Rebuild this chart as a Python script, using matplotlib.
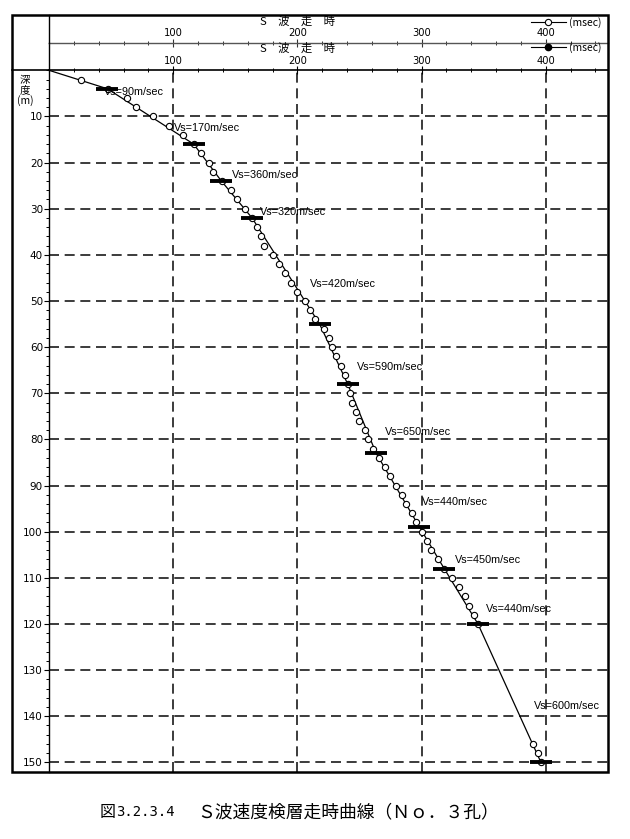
import matplotlib
matplotlib.use("Agg")
import matplotlib.pyplot as plt
from matplotlib.lines import Line2D
from matplotlib.patches import Rectangle
from matplotlib.ticker import MultipleLocator

plt.rcParams['font.family'] = ['Noto Sans CJK JP', 'DejaVu Sans']

# measured S-wave travel times (open circles), depth in m, time in msec
depth_pts = [2, 4, 6, 8, 10, 12, 14, 16, 18, 20, 22, 24, 26, 28, 30, 32, 34, 36, 38, 40,
             42, 44, 46, 48, 50, 52, 54, 56, 58, 60, 62, 64, 66, 68, 70, 72, 74, 76, 78, 80,
             82, 84, 86, 88, 90, 92, 94, 96, 98, 100, 102, 104, 106, 108, 110, 112, 114, 116, 118, 120,
             146, 148, 150]
time_pts = [25.7, 47.6, 62.5, 69.9, 83.8, 96.7, 107.7, 116.6, 122.6, 129.0, 131.8, 138.9, 146.4, 151.4,
            157.8, 163.8, 167.2, 170.4, 173.5, 180.6, 184.8, 189.7, 195.0, 199.4, 206.0, 210.4, 213.9,
            221.5, 225.2, 228.1, 231.4, 235.4, 238.6, 240.5, 242.1, 243.7, 247.2, 249.7, 254.4, 256.6,
            260.6, 265.5, 270.5, 274.5, 279.4, 284.4, 287.4, 292.4, 295.3, 300.6, 304.5, 307.6, 312.9,
            318.2, 324.5, 330.3, 335.1, 338.2, 342.3, 345.4, 389.3, 393.6, 396.1]

# layer boundaries of the fitted travel-time curve
layer_depth = [0, 4, 16, 24, 32, 55, 68, 83, 99, 108, 120, 150]
layer_time = [0, 47.0, 116.5, 138.8, 163.5, 217.9, 240.5, 263.4, 298.3, 318.2, 345.4, 396.1]

# layer velocities
vs_values = [90, 170, 360, 320, 420, 590, 650, 440, 450, 440, 600]

x_ticks = [100, 200, 300, 400]
depth_ticks = list(range(10, 151, 10))

W, H = 630, 839
fig = plt.figure(figsize=(W / 100, H / 100), dpi=100)


def fx(px):
    return px / W


def fy(py):
    return 1 - py / H


xmax = (608 - 49) / 1.242
ymax = (772 - 70.3) / 4.614

# main plot
ax = fig.add_axes([fx(49), fy(772), fx(608) - fx(49), fy(70.3) - fy(772)])
ax.set_xlim(0, xmax)
ax.set_ylim(ymax, 0)
ax.xaxis.tick_top()
ax.set_xticks(x_ticks)
ax.xaxis.set_minor_locator(MultipleLocator(20))
ax.set_yticks(depth_ticks)
ax.yaxis.set_minor_locator(MultipleLocator(2))
ax.tick_params(axis='x', which='major', direction='inout', length=6, width=0.8,
               labelsize=7.2, pad=0.3)
ax.tick_params(axis='x', which='minor', direction='inout', length=3.5, width=0.7)
ax.tick_params(axis='y', which='major', direction='out', length=3.6, width=0.8,
               labelsize=7.5, pad=0.8)
ax.tick_params(axis='y', which='minor', direction='out', length=2.4, width=0.7)
for lab in ax.get_xticklabels() + ax.get_yticklabels():
    lab.set_family('DejaVu Sans')
ax.spines['right'].set_visible(False)
ax.spines['bottom'].set_visible(False)
ax.spines['top'].set_linewidth(1.2)
ax.spines['left'].set_linewidth(1.0)
ax.set_axisbelow(True)
ax.grid(True, which='major', color='#1a1a1a', lw=1.2, ls=(0, (6, 3.4)))

ax.plot(layer_time, layer_depth, color='black', lw=0.9, zorder=3)
ax.plot(time_pts, depth_pts, ls='none', marker='o', ms=4.5, mfc='white',
        mec='black', mew=0.8, zorder=4)
ax.plot(layer_time[1:], layer_depth[1:], ls='none', marker='_', ms=16, mew=2.8,
        color='black', zorder=5)

label_time = [44.3, 100.6, 147.0, 169.9, 210.1, 248.2, 270.5, 299.9, 326.9, 351.9, 390.5]
label_depth = [4.7, 12.6, 22.7, 30.7, 46.3, 64.2, 78.4, 93.6, 106.1, 116.8, 137.8]
for v, t, d in zip(vs_values, label_time, label_depth):
    ax.text(t, d, f"Vs={v}m/sec", fontsize=7.8, family='Liberation Sans',
            ha='left', va='center', zorder=6)

# header bands
hax2 = fig.add_axes([fx(49), fy(70.3), fx(608) - fx(49), fy(42.5) - fy(70.3)])
hax2.set_xlim(0, xmax)
hax2.set_ylim(0, 1)
hax2.xaxis.tick_top()
hax2.set_xticks(x_ticks)
hax2.xaxis.set_minor_locator(MultipleLocator(20))
hax2.set_yticks([])
hax2.tick_params(axis='x', which='major', direction='inout', length=6, width=0.8,
                 labelsize=7.2, pad=0.3, color='#333333')
hax2.tick_params(axis='x', which='minor', direction='inout', length=3.5, width=0.7,
                 color='#333333')
for lab in hax2.get_xticklabels():
    lab.set_family('DejaVu Sans')
for s in ['right', 'bottom']:
    hax2.spines[s].set_visible(False)
hax2.spines['top'].set_color('#555555')
hax2.spines['top'].set_linewidth(1.0)
hax2.spines['left'].set_linewidth(1.0)
hax2.patch.set_alpha(0)

hax1 = fig.add_axes([fx(49), fy(42.5), fx(608) - fx(49), fy(15) - fy(42.5)])
hax1.set_xlim(0, xmax)
hax1.set_ylim(0, 1)
hax1.set_xticks([])
hax1.set_yticks([])
for s in ['right', 'bottom', 'top']:
    hax1.spines[s].set_visible(False)
hax1.spines['left'].set_linewidth(1.0)
hax1.patch.set_alpha(0)

hax1.text(200, 0.78, "S\u3000波\u3000走\u3000時", fontsize=8.2, ha='center', va='center')
hax2.text(200, 0.80, "S\u3000波\u3000走\u3000時", fontsize=8.2, ha='center', va='center')

open_handle = Line2D([], [], color='black', lw=0.8, marker='o', ms=4.5,
                     mfc='white', mec='black', mew=0.8)
filled_handle = Line2D([], [], color='black', lw=0.8, marker='o', ms=4.5,
                       mfc='black', mec='black')
hax1.legend([open_handle], ['(msec)'], loc='center right', bbox_to_anchor=(1.0, 0.74),
            frameon=False, fontsize=7.5, handlelength=3.4, handletextpad=0.3,
            borderaxespad=0.4, borderpad=0.2)
hax2.legend([filled_handle], ['(msec)'], loc='center right', bbox_to_anchor=(1.0, 0.82),
            frameon=False, fontsize=7.5, handlelength=3.4, handletextpad=0.3,
            borderaxespad=0.4, borderpad=0.2)

# outer frame and left column divider
fig.add_artist(Rectangle((fx(12), fy(772)), fx(608) - fx(12), fy(15) - fy(772),
                         transform=fig.transFigure, fill=False, lw=1.8, color='black'))
fig.add_artist(Line2D([fx(12), fx(49)], [fy(70.3), fy(70.3)], transform=fig.transFigure,
                      color='black', lw=1.2))

fig.text(fx(25), fy(75), "深\n度\n(m)", fontsize=7.5, ha='center', va='top',
         linespacing=1.0)

# caption
fig.text(fx(100), fy(812), "図", fontsize=11.5, ha='left', va='center')
fig.text(fx(116), fy(812), "3.2.3.4", fontsize=10, family='DejaVu Sans Mono',
         ha='left', va='center')
fig.text(fx(197), fy(812), "Ｓ波速度検層走時曲線（Ｎｏ．３孔）", fontsize=12.8,
         ha='left', va='center')

fig.savefig("out.png", dpi=100)
